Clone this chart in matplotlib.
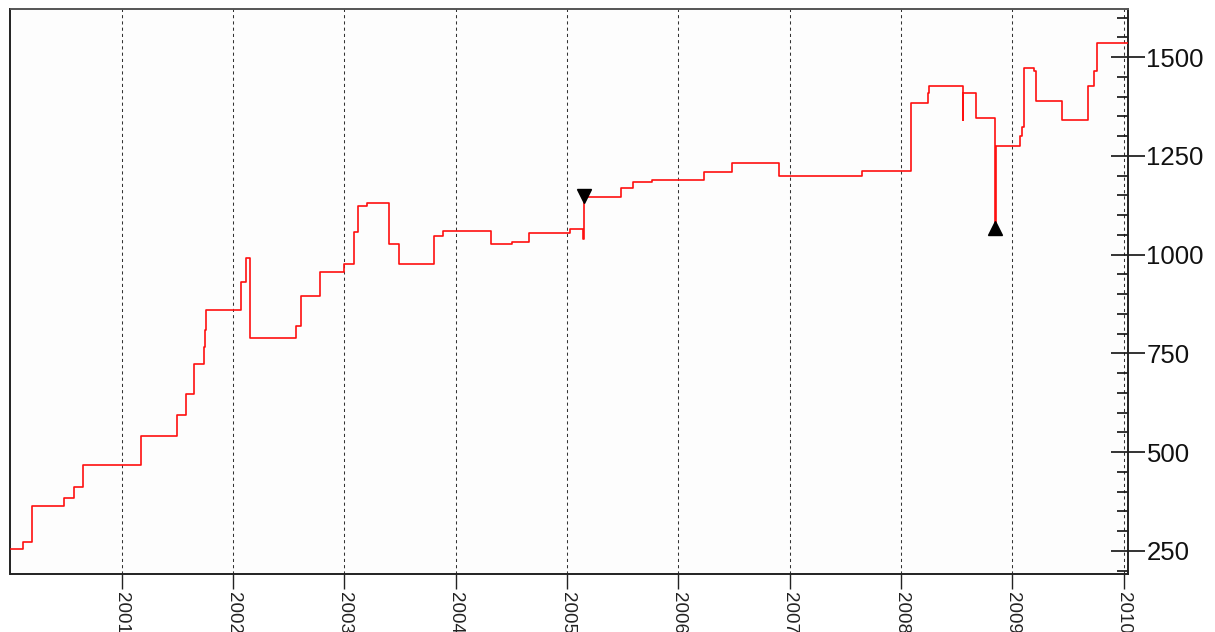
import matplotlib
matplotlib.use("Agg")
import matplotlib.pyplot as plt
from matplotlib.ticker import MultipleLocator, FixedLocator

plt.rcParams['font.family'] = ['Liberation Sans', 'DejaVu Sans']

# Step series: change dates (decimal years) and the value reached at each date
dates = [2000.00, 2000.111, 2000.196, 2000.477, 2000.569, 2000.650, 2001.168,
         2001.494, 2001.575, 2001.650, 2001.742, 2001.751, 2001.760, 2002.072,
         2002.119, 2002.155, 2002.568, 2002.610, 2002.777, 2002.999, 2003.083,
         2003.125, 2003.203, 2003.400, 2003.493, 2003.801, 2003.885, 2004.316,
         2004.504, 2004.654, 2005.022, 2005.142, 2005.153, 2005.483, 2005.596,
         2005.767, 2006.233, 2006.479, 2006.901, 2007.649, 2008.089, 2008.239,
         2008.253, 2008.553, 2008.560, 2008.670, 2008.843, 2008.850, 2009.067,
         2009.083, 2009.103, 2009.193, 2009.208, 2009.447, 2009.678, 2009.732,
         2009.756, 2010.036]
values = [256, 273, 363, 384, 413, 468, 540,
          593, 647, 723, 766, 809, 861, 931,
          992, 788, 819, 896, 957, 976, 1057,
          1124, 1132, 1026, 977, 1047, 1061, 1028,
          1032, 1055, 1064, 1041, 1146, 1169, 1183,
          1188, 1209, 1232, 1198, 1212, 1385, 1409,
          1427, 1342, 1410, 1347, 1075, 1275, 1300,
          1324, 1472, 1464, 1389, 1340, 1426, 1466,
          1536, 1536]

# Signal markers
sell_date = [2005.156]
sell_value = [1148]
buy_date = [2008.843]
buy_value = [1067]

year_ticks = [2001, 2002, 2003, 2004, 2005, 2006, 2007, 2008, 2009, 2010]
year_labels = [str(y) for y in year_ticks]
value_ticks = [250, 500, 750, 1000, 1250, 1500]

fig = plt.figure(figsize=(12.15, 6.32), dpi=100)
fig.patch.set_facecolor('white')
ax = fig.add_axes([10.5 / 1215, 1 - 574.3 / 632, (1127.7 - 10.5) / 1215, (574.3 - 9) / 632])
ax.set_facecolor('#fdfdfd')

for yr in year_ticks:
    ax.axvline(yr, color='#333333', lw=0.75, linestyle=(0, (3, 3)), zorder=1)

ax.step(dates, values, where='post', color='#ff1010', lw=1.2, zorder=3)
ax.plot(sell_date, sell_value, marker='v', color='black', markersize=10, linestyle='none', zorder=4)
ax.plot(buy_date, buy_value, marker='^', color='black', markersize=10, linestyle='none', zorder=4)

ax.set_xlim(2000.0, 2010.036)
ax.set_ylim(191, 1622)

ax.xaxis.set_major_locator(FixedLocator(year_ticks))
ax.set_xticklabels(year_labels, rotation=270, fontsize=13.5, va='top', ha='center')
ax.tick_params(axis='x', direction='out', length=11, width=1, pad=1.5, colors='#222222')

ax.yaxis.tick_right()
ax.yaxis.set_major_locator(FixedLocator(value_ticks))
ax.yaxis.set_minor_locator(MultipleLocator(50))
ax.tick_params(axis='y', which='major', direction='inout', length=24, width=1.2,
               labelsize=18.5, pad=1.5, colors='#111111')
ax.tick_params(axis='y', which='minor', direction='in', length=8, width=1.2, colors='#111111')

for side in ['left', 'right', 'bottom']:
    ax.spines[side].set_color('#222222')
    ax.spines[side].set_linewidth(1.4)
ax.spines['top'].set_color('#555555')
ax.spines['top'].set_linewidth(1.4)

fig.savefig('out.png', dpi=100, facecolor='white')
